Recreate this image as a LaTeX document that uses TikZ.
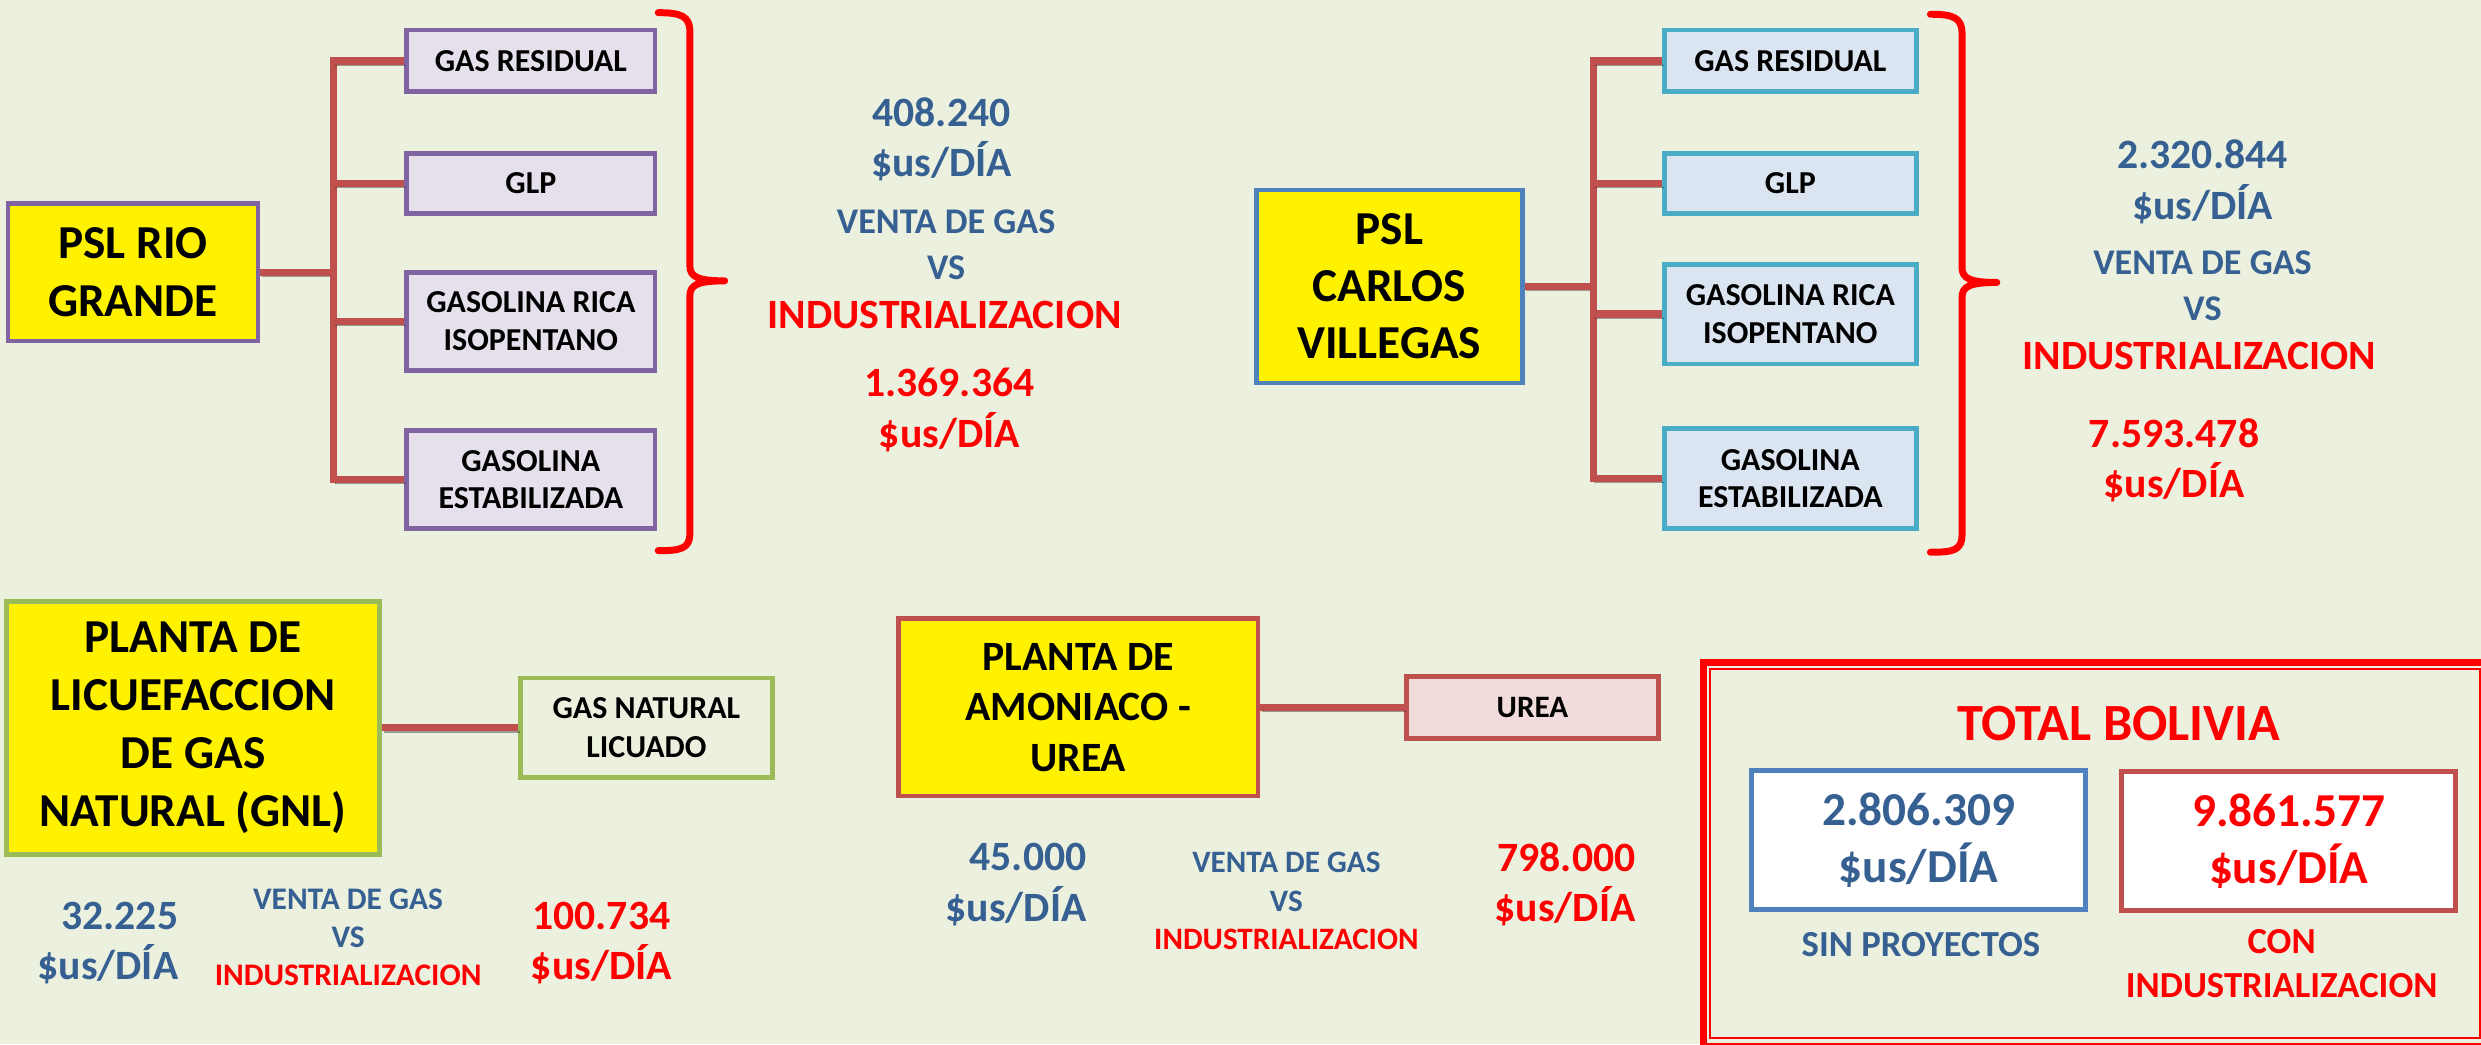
\documentclass[tikz,border=0pt]{standalone}
\usepackage{fontspec}
\setmainfont{Carlito}
\usetikzlibrary{calc}
\definecolor{fondo}{HTML}{EBF1DE}
\definecolor{morado}{HTML}{8064A2}
\definecolor{lila}{HTML}{E5E0EC}
\definecolor{rojizo}{HTML}{C0504D}
\definecolor{azulb}{HTML}{4F81BD}
\definecolor{aguab}{HTML}{4BACC6}
\definecolor{celeste}{HTML}{DBE5F1}
\definecolor{verdeb}{HTML}{9BBB59}
\definecolor{rosa}{HTML}{F2DCDB}
\definecolor{azult}{HTML}{376092}
\newcommand\fz[2]{\bfseries\fontsize{#1}{#2}\selectfont}

\begin{document}
\begin{tikzpicture}[x=0.2mm,y=-0.2mm,
    caja/.style={draw, line width=1.7pt, inner sep=0pt, align=center},
    texto/.style={inner sep=0pt, align=center},
    enlace/.style={draw=rojizo, line width=2.6pt,
        preaction={draw=black, opacity=.35, transform canvas={shift={(0.5pt,-1.5pt)}}}},
    llave/.pic={\draw[red, line width=2.5pt, line cap=round, line join=round]
        (0,0) .. controls (14,0) and (20,2) .. (20,12) -- (20,160)
        .. controls (20,167) and (25,169.5) .. (42,169.5)
        .. controls (25,169.5) and (20,172) .. (20,179) -- (20,329)
        .. controls (20,339) and (14,340) .. (0,340);}]
    \useasboundingbox (0,0) rectangle (1568,660);
    \clip (0,0) rectangle (1568,660); % page = picture
    \fill[fondo] (0,0) rectangle (1568,660);

    % PSL Rio Grande
    \node[caja, fill=yellow, draw=morado, minimum width=31.6mm, minimum height=17.4mm, font=\fz{17}{20.7}] (rg) at (84,172) {PSL RIO\\GRANDE};
    \node[caja, fill=lila, draw=morado, minimum width=31.4mm, minimum height=7.8mm, font=\fz{11.5}{13.4}] (lgr) at (335.5,38.5) {GAS RESIDUAL};
    \node[caja, fill=lila, draw=morado, minimum width=31.4mm, minimum height=7.6mm, font=\fz{11.5}{13.4}] (lglp) at (335.5,116) {GLP};
    \node[caja, fill=lila, draw=morado, minimum width=31.4mm, minimum height=12.4mm, font=\fz{11.5}{13.4}] (lgri) at (335.5,203) {GASOLINA RICA\\ISOPENTANO};
    \node[caja, fill=lila, draw=morado, minimum width=31.4mm, minimum height=12.4mm, font=\fz{11.5}{13.4}] (lgest) at (335.5,303) {GASOLINA\\ESTABILIZADA};
    \coordinate (troncoA) at (211,0);
    \draw[enlace] (rg.east) -- (rg.east -| troncoA);
    \draw[enlace, line cap=rect] (troncoA |- lgr.west) -- (troncoA |- lgest.west);
    \foreach \n in {lgr,lglp,lgri,lgest}
        \draw[enlace] (troncoA |- \n.west) -- (\n.west);
    \pic at (416,8) {llave};

    \node[texto, text=azult, font=\fz{15}{18.2}] (rgv) at (595,88) {408.240\\\$us/DÍA};
    \node[texto, text=azult, font=\fz{13}{16.5}] (rgvs) at (598,154.5) {VENTA DE GAS\\VS};
    \node[texto, text=red, font=\fz{15}{18}] (rgind) at (597,199) {INDUSTRIALIZACION};
    \node[texto, text=red, font=\fz{15}{18.2}] (rgi) at (600,259) {1.369.364\\\$us/DÍA};

    % PSL Carlos Villegas
    \node[caja, fill=yellow, draw=azulb, minimum width=33.6mm, minimum height=24.4mm, font=\fz{17}{20.5}] (cv) at (878,181) {PSL\\CARLOS\\VILLEGAS};
    \node[caja, fill=celeste, draw=aguab, minimum width=31.8mm, minimum height=7.8mm, font=\fz{11.5}{13.4}] (rgr) at (1131.5,38.5) {GAS RESIDUAL};
    \node[caja, fill=celeste, draw=aguab, minimum width=31.8mm, minimum height=7.6mm, font=\fz{11.5}{13.4}] (rglp) at (1131.5,116) {GLP};
    \node[caja, fill=celeste, draw=aguab, minimum width=31.8mm, minimum height=12.6mm, font=\fz{11.5}{13.4}] (rgri) at (1131.5,198.5) {GASOLINA RICA\\ISOPENTANO};
    \node[caja, fill=celeste, draw=aguab, minimum width=31.8mm, minimum height=12.6mm, font=\fz{11.5}{13.4}] (rgest) at (1131.5,302.5) {GASOLINA\\ESTABILIZADA};
    \coordinate (troncoB) at (1007,0);
    \draw[enlace] (cv.east) -- (cv.east -| troncoB);
    \draw[enlace, line cap=rect] (troncoB |- rgr.west) -- (troncoB |- rgest.west);
    \foreach \n in {rgr,rglp,rgri,rgest}
        \draw[enlace] (troncoB |- \n.west) -- (\n.west);
    \pic at (1220,9) {llave};

    \node[texto, text=azult, font=\fz{15}{18.2}] (cvv) at (1392,115) {2.320.844\\\$us/DÍA};
    \node[texto, text=azult, font=\fz{13}{16.5}] (cvvs) at (1392,180.5) {VENTA DE GAS\\VS};
    \node[texto, text=red, font=\fz{15}{18}] (cvind) at (1390,225) {INDUSTRIALIZACION};
    \node[texto, text=red, font=\fz{15}{18.2}] (cvi) at (1374,291) {7.593.478\\\$us/DÍA};

    % GNL
    \node[caja, fill=yellow, draw=verdeb, minimum width=47.2mm, minimum height=32mm, font=\fz{17}{20.9}] (gnl) at (122,460) {PLANTA DE\\LICUEFACCION\\DE GAS\\NATURAL (GNL)};
    \node[caja, fill=fondo, draw=verdeb, minimum width=31.8mm, minimum height=12.6mm, font=\fz{11.5}{14}] (gnll) at (408.5,460) {GAS NATURAL\\LICUADO};
    \draw[enlace] (gnl.east) -- (gnll.west);
    \node[texto, align=right, anchor=east, text=azult, font=\fz{15}{18.2}] (gnlv) at (113,596) {32.225\\\$us/DÍA};
    \node[texto, text=azult, font=\fz{11.3}{13.6}] (gnlvs) at (220,592.5) {VENTA DE GAS\\VS\\\textcolor{red}{INDUSTRIALIZACION}};
    \node[texto, text=red, font=\fz{15}{18.2}] (gnli) at (380,596) {100.734\\\$us/DÍA};

    % amoniaco - urea
    \node[caja, fill=yellow, draw=rojizo, minimum width=45.4mm, minimum height=22.4mm, font=\fz{15}{18.2}] (amo) at (681.5,447) {PLANTA DE\\AMONIACO -\\UREA};
    \node[caja, fill=rosa, draw=rojizo, minimum width=31.8mm, minimum height=7.8mm, font=\fz{11.2}{13.4}] (urea) at (968.5,447) {UREA};
    \draw[enlace] (amo.east) -- (urea.west);
    \node[texto, align=right, anchor=east, text=azult, font=\fz{15}{18.2}] (amov) at (687,559) {45.000\\\$us/DÍA};
    \node[texto, text=azult, font=\fz{11.2}{13.8}] (amovs) at (813,569.5) {VENTA DE GAS\\VS\\\textcolor{red}{INDUSTRIALIZACION}};
    \node[texto, align=right, anchor=east, text=red, font=\fz{15}{18.2}] (amoi) at (1034,559) {798.000\\\$us/DÍA};

    % total
    \draw[red, line width=2.4pt] (1076.5,418.5) rectangle (1580,661);
    \draw[red, line width=0.7pt] (1081,423) rectangle (1567.5,656);
    \node[texto, text=red, font=\fz{18.8}{22}] (tb) at (1339,457) {TOTAL BOLIVIA};
    \node[caja, fill=white, draw=azulb, minimum width=42.2mm, minimum height=17.6mm, text=azult, font=\fz{17}{20.5}] (sinp) at (1212.5,531) {2.806.309\\\$us/DÍA};
    \node[caja, fill=white, draw=rojizo, minimum width=42.2mm, minimum height=17.6mm, text=red, font=\fz{17}{20.5}] (conp) at (1446.5,531.5) {9.861.577\\\$us/DÍA};
    \node[texto, text=azult, font=\fz{13.2}{15.9}] (sint) at (1214,597) {SIN PROYECTOS};
    \node[texto, text=red, font=\fz{13.2}{15.9}] (cont) at (1442,609) {CON\\INDUSTRIALIZACION};
\end{tikzpicture}
\end{document}
